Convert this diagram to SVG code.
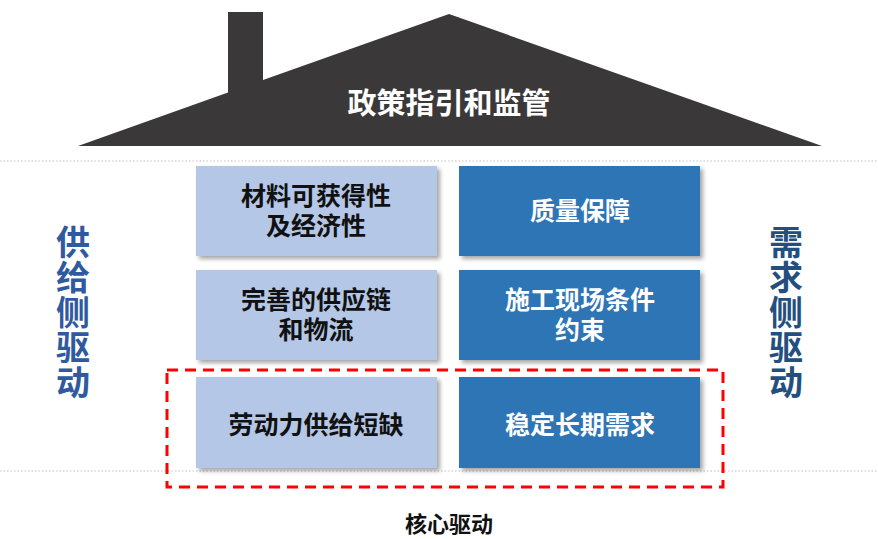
<svg xmlns="http://www.w3.org/2000/svg" width="878" height="539" viewBox="0 0 878 539">
<style>
text{font-family:"Noto Sans CJK SC","Noto Sans",sans-serif;font-weight:700;text-anchor:middle}
.lt{fill:#B4C7E7}
.dk{fill:#2E75B6}
.tb{fill:#111;font-size:25px;font-family:"Liberation Sans","Noto Sans CJK SC",sans-serif}
.tw{fill:#fff;font-size:25px;font-family:"Liberation Sans","Noto Sans CJK SC",sans-serif}
.side{font-size:34px;writing-mode:vertical-rl;letter-spacing:1px}
.dot{stroke:#BFBFBF;stroke-width:1;stroke-dasharray:1.5 2}
</style>
<defs>
<filter id="sh" x="-5%" y="-5%" width="115%" height="120%">
<feDropShadow dx="3" dy="3" stdDeviation="2" flood-color="#000" flood-opacity="0.35"/>
</filter>
</defs>
<rect width="878" height="539" fill="#fff"/>
<g id="guides">
<line class="dot" x1="0" y1="161" x2="878" y2="161"/>
<line class="dot" x1="0" y1="471" x2="878" y2="471"/>
</g>
<g id="roof">
<polygon points="78,146 228,92.6 228,12 263,12 263,80 449,14 822,146" fill="#3A3838"/>
<text x="449" y="114" fill="#fff" font-size="29">政策指引和监管</text>
</g>
<g id="n1"><rect class="lt" x="196" y="166" width="241" height="90" filter="url(#sh)"/><text class="tb" x="316" y="205">材料可获得性</text><text class="tb" x="316" y="235">及经济性</text></g>
<g id="n2"><rect class="dk" x="459" y="166" width="241" height="90" filter="url(#sh)"/><text class="tw" x="580" y="220">质量保障</text></g>
<g id="n3"><rect class="lt" x="196" y="270" width="241" height="90" filter="url(#sh)"/><text class="tb" x="316" y="309">完善的供应链</text><text class="tb" x="316" y="339">和物流</text></g>
<g id="n4"><rect class="dk" x="459" y="270" width="241" height="90" filter="url(#sh)"/><text class="tw" x="580" y="309">施工现场条件</text><text class="tw" x="580" y="339">约束</text></g>
<g id="n5"><rect class="lt" x="196" y="377" width="241" height="91" filter="url(#sh)"/><text class="tb" x="316" y="434">劳动力供给短缺</text></g>
<g id="n6"><rect class="dk" x="459" y="377" width="241" height="91" filter="url(#sh)"/><text class="tw" x="580" y="434">稳定长期需求</text></g>
<g id="core">
<rect x="167" y="370" width="556" height="117" fill="none" stroke="#FF0000" stroke-width="3" stroke-dasharray="11 7"/>
<text x="449" y="532" fill="#111" font-size="22">核心驱动</text>
</g>
<g id="supply">
<text class="side" x="73" y="313" fill="#2F5AA0">供给侧驱动</text>
</g>
<g id="demand">
<text class="side" x="786" y="313" fill="#234F80">需求侧驱动</text>
</g>
<g id="connectors"/>
</svg>
